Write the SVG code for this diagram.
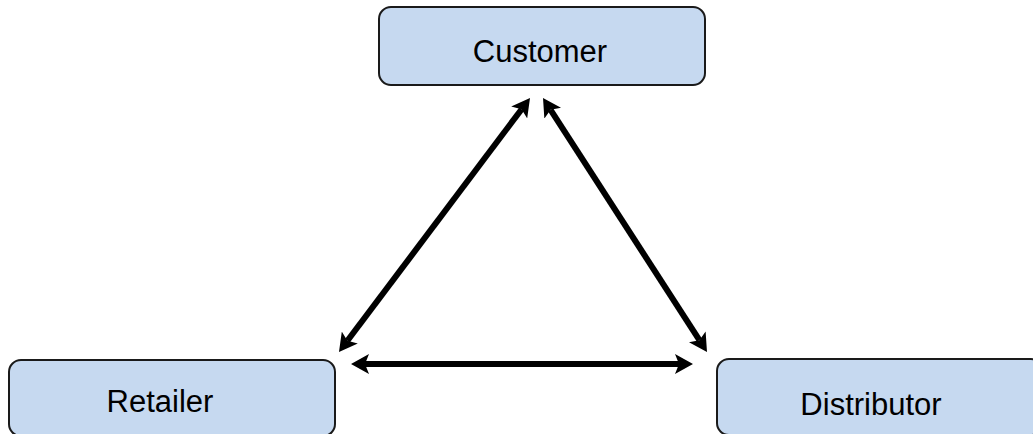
<svg xmlns="http://www.w3.org/2000/svg" width="1033" height="434" viewBox="0 0 1033 434">
  <style>
    .box { fill: #c6d9f0; stroke: #1a1a1a; stroke-width: 2; }
    .label { font-family: "Liberation Sans", Arial, sans-serif; font-size: 31px; fill: #000; text-anchor: middle; }
    .link { stroke: #000; stroke-width: 6; fill: none; marker-start: url(#head); marker-end: url(#head); }
  </style>
  <defs>
    <!-- notched arrowhead, tip 14px beyond the line end -->
    <marker id="head" viewBox="0 -10 18 20" refX="4" refY="0" markerWidth="18" markerHeight="20" orient="auto-start-reverse" markerUnits="userSpaceOnUse">
      <path d="M0,-10 L18,0 L0,10 L4,0 z" fill="#000"/>
    </marker>
  </defs>

  <g id="customer">
    <rect class="box" x="379" y="7" width="326" height="78" rx="12"/>
    <text class="label" x="540" y="62">Customer</text>
  </g>

  <g id="retailer">
    <rect class="box" x="9" y="360" width="326" height="76" rx="12"/>
    <text class="label" x="160" y="412">Retailer</text>
  </g>

  <g id="distributor">
    <rect class="box" x="717" y="359" width="326" height="76" rx="12"/>
    <text class="label" x="871" y="415">Distributor</text>
  </g>

  <g id="connectors">
    <line class="link" x1="347.4" y1="340.8" x2="521.6" y2="109.2"/>
    <line class="link" x1="550.6" y1="109.8" x2="699.4" y2="340.2"/>
    <line class="link" x1="365" y1="364" x2="679" y2="364"/>
  </g>
</svg>
